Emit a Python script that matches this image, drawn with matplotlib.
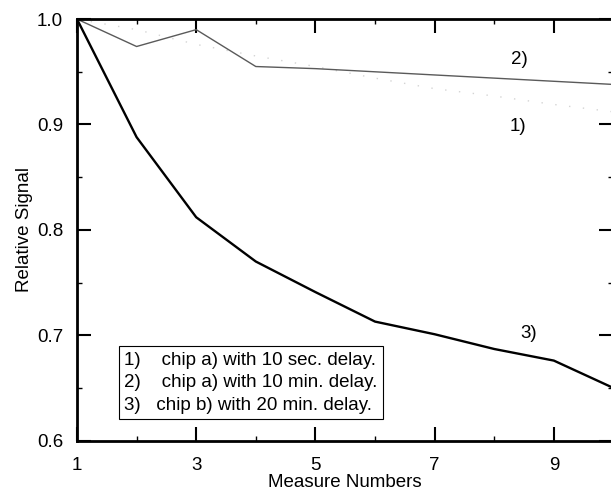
import matplotlib
matplotlib.use('Agg')
import matplotlib.pyplot as plt
from matplotlib.lines import Line2D
import numpy as np

plt.rcParams['font.family'] = ['Liberation Sans', 'DejaVu Sans']

measure = [1, 2, 3, 4, 5, 6, 7, 8, 9, 10]
signal_1 = [1.0, 0.990, 0.976, 0.965, 0.955, 0.944, 0.934, 0.927, 0.919, 0.912]
signal_2 = [1.0, 0.974, 0.990, 0.955, 0.953, 0.950, 0.947, 0.944, 0.941, 0.938]
signal_3 = [1.0, 0.888, 0.812, 0.770, 0.741, 0.713, 0.701, 0.687, 0.676, 0.650]

curve_tags = ['1)', '2)', '3)']
tag_pos = [(8.4, 0.898), (8.43, 0.962), (8.57, 0.702)]
legend_labels = ['1)    chip a) with 10 sec. delay.',
                 '2)    chip a) with 10 min. delay.',
                 '3)   chip b) with 20 min. delay.']

FS = 13.5


def plot_signal():
    fig = plt.figure(figsize=(6.11, 4.96), dpi=100)
    ax = fig.add_axes([0.126, 0.1115, 0.878, 0.850])

    ax.plot(measure, signal_1, color='#d4d4d4', lw=1.0, linestyle=(0, (1, 9)))
    ax.plot(measure, signal_2, color='#5a5a5a', lw=1.0)
    ax.plot(measure, signal_3, color='black', lw=1.7)

    for tag, (tx, ty) in zip(curve_tags, tag_pos):
        ax.text(tx, ty, tag, fontsize=FS, ha='center', va='center')

    ax.set_xlim(1, 10)
    ax.set_ylim(0.6, 1.0)
    ax.set_xticks([1, 3, 5, 7, 9])
    ax.set_xticks([2, 4, 6, 8], minor=True)
    ax.set_yticks(np.arange(0.6, 1.01, 0.1))
    ax.set_yticks(np.arange(0.65, 1.0, 0.1), minor=True)
    ax.set_yticklabels(['0.6', '0.7', '0.8', '0.9', '1.0'])

    ax.tick_params(which='both', direction='in', top=True, right=True,
                   labelsize=FS, width=1.5)
    ax.tick_params(which='major', length=10)
    ax.tick_params(which='minor', length=3.6, width=1.0)
    ax.tick_params(axis='x', pad=12)
    ax.tick_params(axis='y', pad=10)
    for sp in ax.spines.values():
        sp.set_linewidth(2.0)

    ax.set_xlabel('Measure Numbers', fontsize=FS, labelpad=0)
    ax.set_ylabel('Relative Signal', fontsize=FS, labelpad=3)

    handles = [Line2D([], [], linestyle='none') for _ in legend_labels]
    leg = ax.legend(handles, legend_labels, loc='lower left',
                    bbox_to_anchor=(0.078, 0.051), borderaxespad=0,
                    handlelength=0, handletextpad=0, fontsize=FS,
                    fancybox=False, framealpha=1, edgecolor='black',
                    borderpad=0.3, labelspacing=0.28)
    leg.get_frame().set_linewidth(0.8)

    fig.savefig('out.png', dpi=100)


plot_signal()
